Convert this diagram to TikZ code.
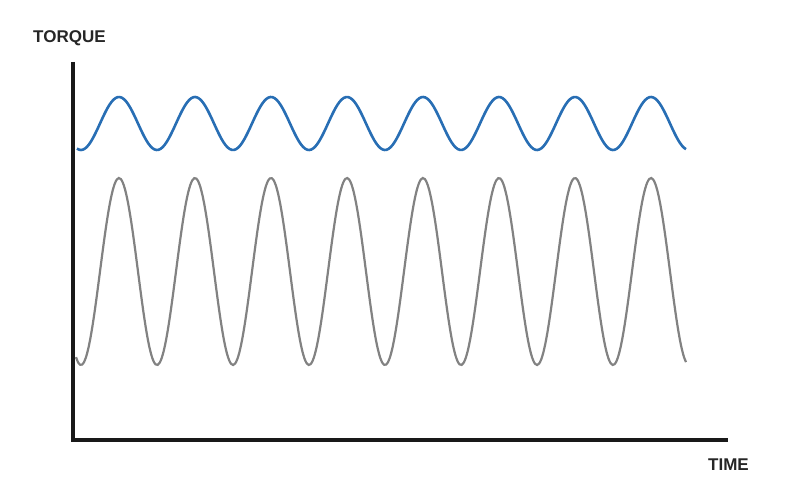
\documentclass[tikz,border=0pt]{standalone}
\usepackage{fontspec}
\setmainfont{Liberation Sans}
\begin{document}
\begin{tikzpicture}[x=1pt,y=-1pt,
  axis/.style={line width=3.5pt,black!90},
  lbl/.style={font=\fontsize{17}{20}\selectfont\bfseries,text=black!85,inner sep=0pt},
  bluewave/.style={line width=2.6pt,color={rgb,255:red,40;green,110;blue,180}},
  graywave/.style={line width=2.2pt,color={rgb,255:red,130;green,130;blue,130}}]
\useasboundingbox (0,0) rectangle (800,500);
\coordinate (top) at (73,62);
\coordinate (origin) at (73,440);
\coordinate (right) at (728,440);
\draw[axis,line cap=butt] (top) -- (origin) -- (right);
\node[lbl,anchor=west] (torque) at (33,38) {TORQUE};
\node[lbl,anchor=west] (time) at (708,465) {TIME};
\draw[bluewave,smooth,samples=300,domain=77:686] plot (\x,{123.5-26.5*cos(4.736842*(\x-119))});
\draw[graywave,smooth,samples=300,domain=76:686] plot (\x,{271.5-93.5*cos(4.736842*(\x-119))});
\end{tikzpicture}
\end{document}
